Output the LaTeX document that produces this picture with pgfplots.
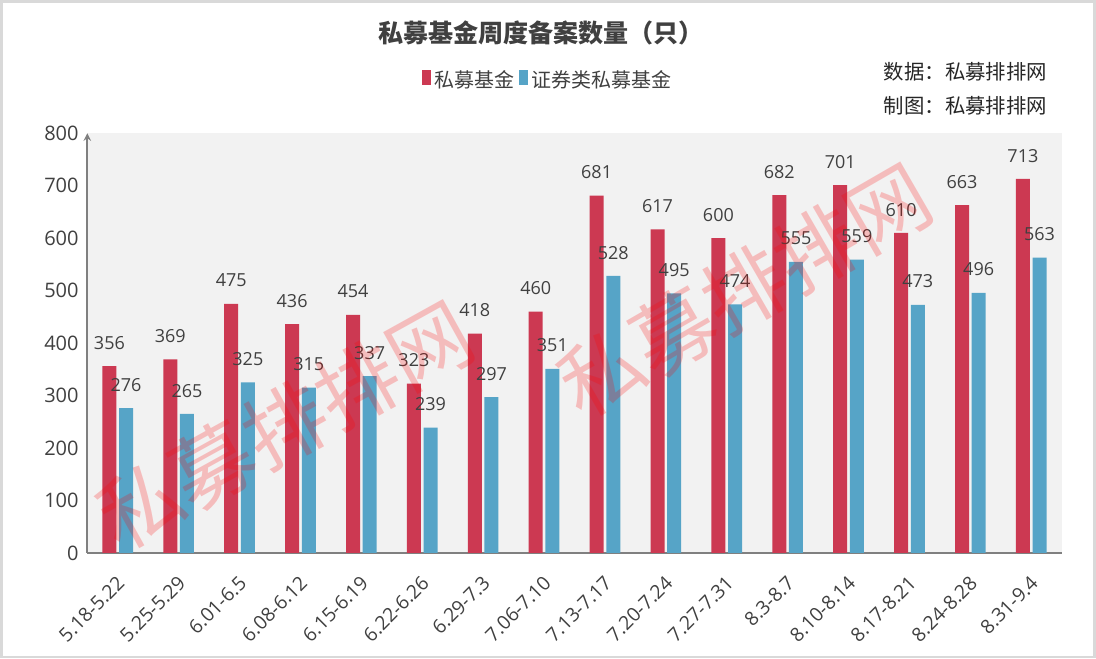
\documentclass[border=0pt]{standalone}
\usepackage{pgfplots}
\pgfplotsset{compat=1.18}
\usepackage{fontspec}
\setmainfont{Open Sans}
\newfontfamily\cjk{Noto Sans CJK SC}
\definecolor{cred}{RGB}{204,57,82}
\definecolor{cblue}{RGB}{86,164,199}
\definecolor{ctext}{RGB}{64,64,64}
\definecolor{cplot}{RGB}{242,242,242}
\begin{document}
\begin{tikzpicture}[x=0.75pt,y=0.75pt]
\fill[white] (0,0) rectangle (1096,658);
\draw[black!15,line width=2pt] (1,1) rectangle (1095,657);
\begin{axis}[
  at={(87*0.75pt,105*0.75pt)}, anchor=south west,
  scale only axis, width=975*0.75pt, height=420*0.75pt,
  ybar=2pt, bar width=10.5pt,
  xmin=-0.5, xmax=15.5, ymin=0, ymax=800,
  ytick={0,100,...,800},
  xtick=data,
  xticklabels={5.18-5.22,5.25-5.29,6.01-6.5,6.08-6.12,6.15-6.19,6.22-6.26,6.29-7.3,7.06-7.10,7.13-7.17,7.20-7.24,7.27-7.31,8.3-8.7,8.10-8.14,8.17-8.21,8.24-8.28,8.31-9.4},
  x tick label style={rotate=45, anchor=north east, font=\fontsize{14.5}{16}\selectfont, text=ctext, xshift=-9pt, yshift=-7pt},
  y tick label style={font=\fontsize{15}{17}\selectfont, text=ctext, xshift=-3pt},
  /pgf/number format/assume math mode=true,
  major tick length=0pt,
  axis lines=left,
  x axis line style={-, line width=2.2pt, black!50},
  y axis line style={-stealth, line width=1.5pt, black!50},
  axis background/.style={fill=cplot},
  nodes near coords,
  every node near coord/.append style={font=\fontsize{13.5}{15}\selectfont, text=ctext, yshift=9pt},
  legend style={at={(548*0.75pt-87*0.75pt,553*0.75pt-80*0.75pt)}, anchor=center, draw=none, fill=none, legend columns=2,
    font=\cjk\fontsize{15}{17}\selectfont, text=ctext, /tikz/every even column/.append style={column sep=2pt}},
  legend image code/.code={\fill[#1] (0.02cm,-0.12cm) rectangle (0.26cm,0.26cm);},
  clip=false,
]
\addplot[fill=cred, draw=none] coordinates {(0,356)(1,369)(2,475)(3,436)(4,454)(5,323)(6,418)(7,460)(8,681)(9,617)(10,600)(11,682)(12,701)(13,610)(14,663)(15,713)};
\addplot[fill=cblue, draw=none] coordinates {(0,276)(1,265)(2,325)(3,315)(4,337)(5,239)(6,297)(7,351)(8,528)(9,495)(10,474)(11,555)(12,559)(13,473)(14,496)(15,563)};
\legend{私募基金,证券类私募基金}
\end{axis}
\node[font=\cjk\bfseries\fontsize{18.8}{21}\selectfont, text=ctext] at (541,658-33) {私募基金周度备案数量（只）};
\node[font=\cjk\fontsize{15.3}{17}\selectfont, text=black!85, anchor=east] at (1052,658-72) {数据：私募排排网};
\node[font=\cjk\fontsize{15.3}{17}\selectfont, text=black!85, anchor=east] at (1052,658-106) {制图：私募排排网};
\node[font=\cjk\fontsize{62}{64}\selectfont, text=red, opacity=0.22, rotate=29] at (285,658-425) {私募排排网};
\node[font=\cjk\fontsize{62}{64}\selectfont, text=red, opacity=0.22, rotate=30] at (745,658-290) {私募排排网};
\end{tikzpicture}
\end{document}
